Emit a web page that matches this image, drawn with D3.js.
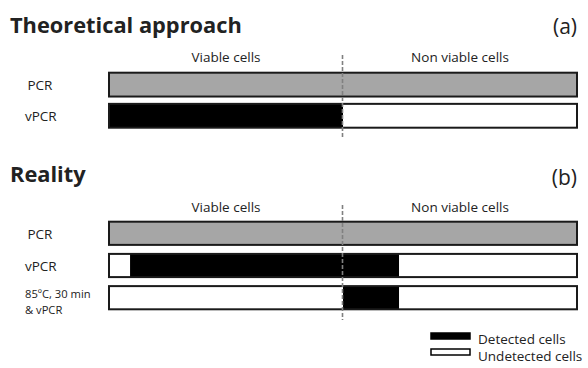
<!DOCTYPE html>
<html><head><meta charset="utf-8">
<script src="https://cdn.jsdelivr.net/npm/d3@7"></script>
<style>body{margin:0;background:#fff}svg{display:block}text{font-family:"Open Sans",sans-serif;fill:#222}</style>
</head><body><svg id="c" width="588" height="368"></svg>
<script>
// ---- data ----
const panelTitles = ["Theoretical approach", "Reality"];
const panelTags = ["(a)", "(b)"];
const zoneLabels = ["Viable cells", "Non viable cells"];
const zoneBoundary = 50; // % of the cell population that is viable
const rowsA = ["PCR", "vPCR"];
const rowsB = ["PCR", "vPCR", "85ºC, 30 min|& vPCR"];
// segments per row: [from %, to %, state]
const segmentsA = [
  [[0, 100, "total"]],
  [[0, 50, "detected"], [50, 100, "undetected"]]
];
const segmentsB = [
  [[0, 100, "total"]],
  [[0, 4.5, "undetected"], [4.5, 62, "detected"], [62, 100, "undetected"]],
  [[0, 50, "undetected"], [50, 62, "detected"], [62, 100, "undetected"]]
];
const legendLabels = ["Detected cells", "Undetected cells"];
const legendStates = ["detected", "undetected"];

// ---- drawing ----
const svg = d3.select("#c");
const color = d3.scaleOrdinal().domain(["total", "detected", "undetected"]).range(["#a6a6a6", "#000", "#fff"]);
const x = d3.scaleLinear().domain([0, 100]).range([109, 577]);

const panels = [
  {title: panelTitles[0], tag: panelTags[0], rows: rowsA, segs: segmentsA, titleY: 33, tagY: 34, zoneY: 62, rowRange: [72.7, 127.7], pad: 0.235, dash: [55, 138]},
  {title: panelTitles[1], tag: panelTags[1], rows: rowsB, segs: segmentsB, titleY: 182, tagY: 185, zoneY: 212, rowRange: [221.7, 309.3], pad: 0.28, dash: [205, 320]}
];

panels.forEach(p => {
  const g = svg.append("g");
  g.append("text").attr("x", 10).attr("y", p.titleY).attr("font-size", 21.8).attr("font-weight", 700).attr("fill", "#111").text(p.title);
  g.append("text").attr("x", 577).attr("y", p.tagY).attr("text-anchor", "end").attr("font-size", 21).attr("fill", "#222").text(p.tag);
  g.selectAll(".zone").data(zoneLabels).join("text")
    .attr("x", (d, i) => x(i === 0 ? zoneBoundary / 2 : (zoneBoundary + 100) / 2))
    .attr("y", p.zoneY).attr("text-anchor", "middle").attr("font-size", 13.5).attr("fill", "#333").text(d => d);
  const y = d3.scaleBand().domain(p.rows).range(p.rowRange).paddingInner(p.pad).paddingOuter(0);
  const row = g.selectAll(".row").data(p.rows).join("g").attr("transform", d => `translate(0,${y(d)})`);
  row.each(function (r, i) {
    const rg = d3.select(this);
    const lines = r.split("|");
    const multi = lines.length > 1;
    lines.forEach((l, k) => rg.append("text").attr("font-size", multi ? 11.2 : 13.5).attr("fill", "#333")
      .attr("x", multi ? 25 : (r === "PCR" ? 27.5 : 25))
      .attr("y", multi ? y.bandwidth() / 2 + 0.5 + k * 15.6 : y.bandwidth() / 2 + 5.5).text(l));
    rg.selectAll("rect.seg").data(p.segs[i]).join("rect").attr("class", "seg")
      .attr("x", d => x(d[0])).attr("width", d => x(d[1]) - x(d[0]))
      .attr("y", 0).attr("height", y.bandwidth()).attr("fill", d => color(d[2]));
    rg.append("rect").attr("x", x(0)).attr("width", x(100) - x(0)).attr("y", 0).attr("height", y.bandwidth())
      .attr("fill", "none").attr("stroke", "#1a1a1a").attr("stroke-width", 2);
  });
  g.append("line").attr("x1", x(zoneBoundary) - 0.5).attr("x2", x(zoneBoundary) - 0.5).attr("y1", p.dash[0]).attr("y2", p.dash[1])
    .attr("stroke", "#808080").attr("stroke-width", 1.6).attr("stroke-dasharray", "4,2");
});

// legend
const lg = svg.append("g");
legendStates.forEach((s, i) => {
  lg.append("rect").attr("x", 431).attr("y", 333 + i * 16).attr("width", 39).attr("height", 6)
    .attr("fill", color(s)).attr("stroke", "#000").attr("stroke-width", 1.5);
  lg.append("text").attr("x", 478).attr("y", 344 + i * 16.5).attr("font-size", 13.5).attr("fill", "#222").text(legendLabels[i]);
});
</script></body></html>
